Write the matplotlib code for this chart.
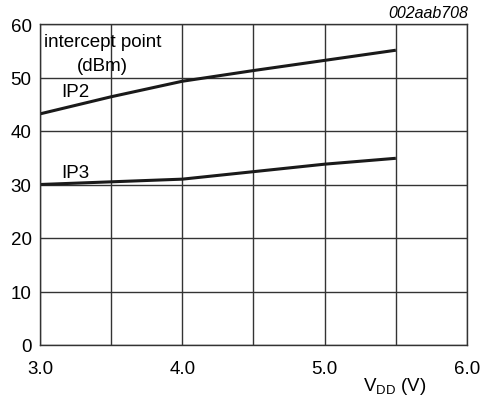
import matplotlib
matplotlib.use('Agg')
from matplotlib import pyplot as plt

plt.rcParams['font.family'] = ['Liberation Sans', 'DejaVu Sans']

# supply voltage (V)
vdd = [3.0, 3.5, 4.0, 4.5, 5.0, 5.5]
# intercept points (dBm)
ip2 = [43.2, 46.4, 49.3, 51.3, 53.2, 55.1]
ip3 = [30.0, 30.5, 31.0, 32.4, 33.8, 34.9]

xticks = [3.0, 4.0, 5.0, 6.0]
yticks = [0, 10, 20, 30, 40, 50, 60]

fig = plt.figure(figsize=(4.84, 4.02), dpi=100)
ax = fig.add_axes([40 / 484, 1 - 346 / 402, 427 / 484, 321 / 402])

ax.plot(vdd, ip2, color='#1a1a1a', linewidth=2.2, solid_capstyle='butt')
ax.plot(vdd, ip3, color='#1a1a1a', linewidth=2.2, solid_capstyle='butt')

grid_x = [3.0, 3.5, 4.0, 4.5, 5.0, 5.5, 6.0]
ax.set_xlim(3.0, 6.0)
ax.set_ylim(0, 60)
ax.set_xticks(grid_x)
ax.set_xticklabels(['%.1f' % t if t in xticks else '' for t in grid_x])
ax.set_yticks(yticks)
ax.tick_params(length=0, labelsize=13.5)
ax.tick_params(axis='x', pad=11)
ax.tick_params(axis='y', pad=6)
ax.grid(True, color='#333333', linewidth=1.0)
for s in ax.spines.values():
    s.set_color('#333333')
    s.set_linewidth(1.0)

ax.text(3.03, 58.4, 'intercept point', fontsize=13.5, va='top', ha='left')
ax.text(3.44, 53.9, '(dBm)', fontsize=13.5, va='top', ha='center')
ax.text(3.15, 47.3, 'IP2', fontsize=13.5, va='center', ha='left')
ax.text(3.15, 32.3, 'IP3', fontsize=13.5, va='center', ha='left')

fig.text(468 / 484, 1 - 14 / 402, '002aab708', fontsize=11.5, style='italic', ha='right', va='center')
fig.text(395 / 484, 1 - 387 / 402, r'V$_{\mathregular{DD}}$ (V)', fontsize=13.5, ha='center', va='center')

plt.savefig('out.png')
